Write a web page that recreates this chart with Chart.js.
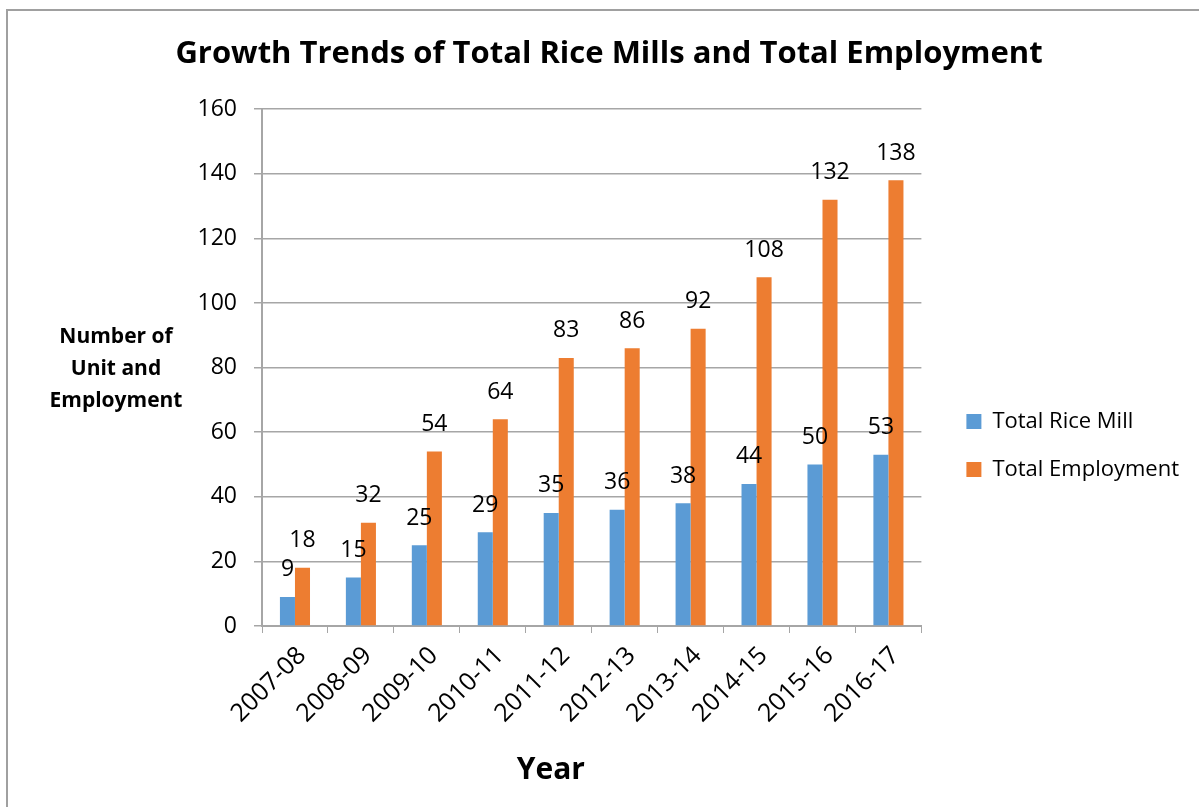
<!DOCTYPE html>
<html>
<head>
<meta charset="utf-8">
<title>Growth Trends of Total Rice Mills and Total Employment</title>
<script src="https://cdn.jsdelivr.net/npm/chart.js@4.4.1/dist/chart.umd.min.js"></script>
<style>
  html, body { margin: 0; padding: 0; background: #fff; }
  #wrap { position: relative; width: 1199px; height: 807px; }
</style>
</head>
<body>
<div id="wrap"><canvas id="riceChart" width="1199" height="807"></canvas></div>
<script>
const years = ['2007-08', '2008-09', '2009-10', '2010-11', '2011-12',
               '2012-13', '2013-14', '2014-15', '2015-16', '2016-17'];
const riceMills = [9, 15, 25, 29, 35, 36, 38, 44, 50, 53];
const employment = [18, 32, 54, 64, 83, 86, 92, 108, 132, 138];
const yTitleLines = ['Number of', 'Unit and', 'Employment'];

const FONT = '"Open Sans", Lato, sans-serif';
const GRID = '#a6a6a6';

// frame around the whole chart (left and top edges show)
const frame = {
    id: 'frame',
    beforeDraw(chart) {
        const ctx = chart.ctx;
        ctx.save();
        ctx.fillStyle = '#fff';
        ctx.fillRect(0, 0, chart.width, chart.height);
        ctx.strokeStyle = '#a0a0a0';
        ctx.lineWidth = 2;
        ctx.beginPath();
        ctx.moveTo(7, chart.height + 2);
        ctx.lineTo(7, 10);
        ctx.lineTo(chart.width + 2, 10);
        ctx.stroke();
        ctx.restore();
    }
};

// value labels above every bar
const barValues = {
    id: 'barValues',
    afterDatasetsDraw(chart) {
        const ctx = chart.ctx;
        ctx.save();
        ctx.font = '23px ' + FONT;
        ctx.fillStyle = '#000';
        ctx.textAlign = 'center';
        ctx.textBaseline = 'middle';
        chart.data.datasets.forEach((ds, i) => {
            chart.getDatasetMeta(i).data.forEach((bar, j) => {
                ctx.fillText(ds.data[j], bar.x, bar.y - 27);
            });
        });
        ctx.restore();
    }
};

// horizontal y-axis title and the "Year" caption
const axisTitles = {
    id: 'axisTitles',
    afterDraw(chart) {
        const area = chart.chartArea;
        const ctx = chart.ctx;
        ctx.save();
        ctx.fillStyle = '#000';
        ctx.textAlign = 'center';
        ctx.textBaseline = 'middle';
        ctx.font = 'bold 21px ' + FONT;
        const mid = (area.top + area.bottom) / 2 + 1;
        yTitleLines.forEach((line, i) => {
            ctx.fillText(line, area.left - 146, mid + (i - 1) * 32);
        });
        ctx.font = 'bold 30px ' + FONT;
        ctx.fillText('Year', area.left + area.width * 0.438, area.bottom + 144);
        ctx.restore();
    }
};

// legend items start 45px right of the plot and sit a little lower
const legendNudge = {
    id: 'legendNudge',
    afterLayout(chart) {
        const lg = chart.legend;
        if (!lg) return;
        const dx = chart.chartArea.right + 45 - (lg.left + lg.options.labels.padding);
        lg.left += dx; lg.right += dx;
        lg.top += 42; lg.bottom += 42;
    }
};

new Chart(document.getElementById('riceChart'), {
    type: 'bar',
    data: {
        labels: years,
        datasets: [
            {
                label: 'Total Rice Mill',
                data: riceMills,
                backgroundColor: '#5b9bd5',
                categoryPercentage: 0.456,
                barPercentage: 1
            },
            {
                label: 'Total Employment',
                data: employment,
                backgroundColor: '#ed7d31',
                categoryPercentage: 0.456,
                barPercentage: 1
            }
        ]
    },
    options: {
        responsive: false,
        animation: false,
        // left padding centres the title a bit right of the canvas middle
        layout: { padding: { left: 48, right: 29, top: 0, bottom: 0 } },
        plugins: {
            title: {
                display: true,
                text: 'Growth Trends of Total Rice Mills and Total Employment',
                color: '#000',
                font: { family: FONT, size: 31, weight: 'bold' },
                padding: { top: 36, bottom: 36 }
            },
            legend: {
                position: 'right',
                labels: {
                    color: '#000',
                    font: { family: FONT, size: 22 },
                    boxWidth: 15,
                    boxHeight: 15,
                    padding: 26
                }
            },
            tooltip: { enabled: false }
        },
        scales: {
            x: {
                offset: true,
                grid: {
                    offset: true,
                    drawOnChartArea: false,
                    drawTicks: true,
                    tickLength: 7,
                    color: GRID
                },
                border: { color: GRID, width: 2 },
                ticks: {
                    color: '#000',
                    font: { family: FONT, size: 25 },
                    minRotation: 45,
                    maxRotation: 45,
                    labelOffset: 7,
                    padding: 8
                },
                afterFit(scale) { scale.height = 181; }
            },
            y: {
                min: 0,
                max: 160,
                ticks: {
                    stepSize: 20,
                    color: '#000',
                    font: { family: FONT, size: 23 },
                    padding: 17
                },
                grid: { color: GRID, lineWidth: 1.5, tickLength: 8 },
                border: { color: GRID, width: 2 },
                afterFit(scale) { scale.width = 214; }
            }
        }
    },
    plugins: [frame, barValues, axisTitles, legendNudge]
});
</script>
</body>
</html>
